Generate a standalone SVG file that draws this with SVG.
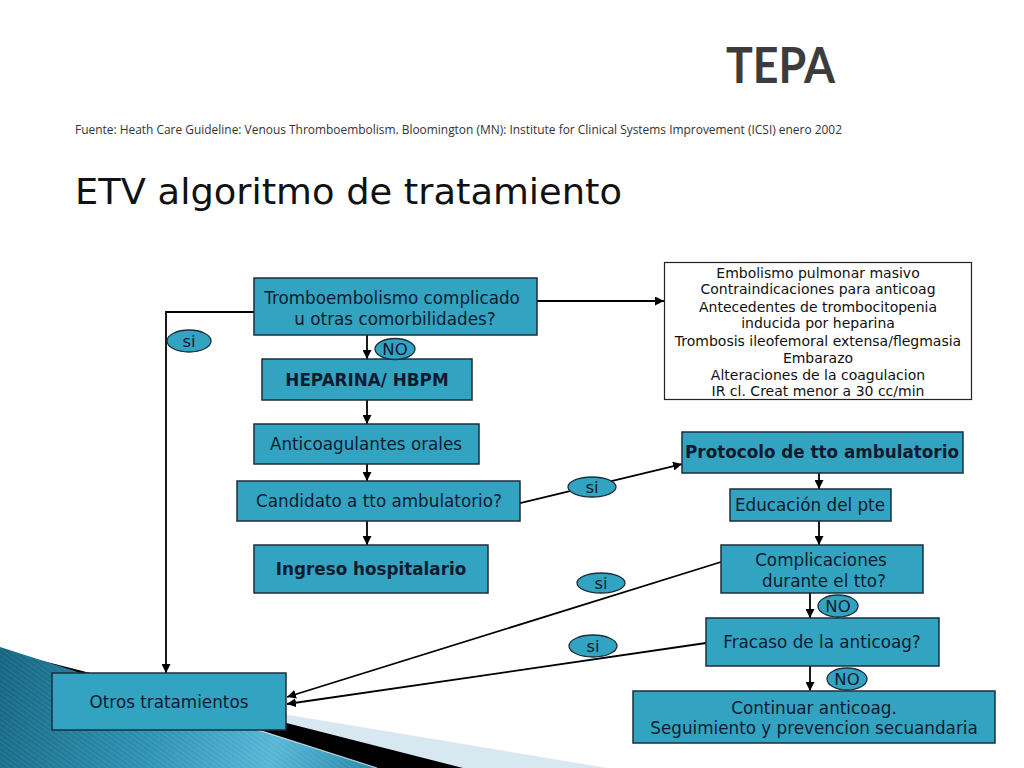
<svg xmlns="http://www.w3.org/2000/svg" width="1024" height="768" viewBox="0 0 1024 768">
<defs>
<linearGradient id="teal" x1="0" y1="650" x2="370" y2="768" gradientUnits="userSpaceOnUse">
<stop offset="0" stop-color="#156580"/>
<stop offset="0.45" stop-color="#2f93b5"/>
<stop offset="0.75" stop-color="#58b6d6"/>
<stop offset="1" stop-color="#2a8aad"/>
</linearGradient>
<pattern id="hatch" width="4" height="4" patternUnits="userSpaceOnUse" patternTransform="rotate(-55)">
<rect width="1.2" height="4" fill="#ffffff" fill-opacity="0.08"/>
</pattern>
<marker id="arr" viewBox="0 0 10 10" refX="10" refY="5" markerWidth="9" markerHeight="9" markerUnits="userSpaceOnUse" orient="auto">
<path d="M0,0 L10,5 L0,10 z" fill="#000"/>
</marker>
<style>
.box{fill:#33a3c2;stroke:#1b2e3c;stroke-width:1.5}
.wbox{fill:#fff;stroke:#222;stroke-width:1.2}
.t{font-family:"DejaVu Sans","Verdana",sans-serif;font-size:16.8px;fill:#0d1b2e;text-anchor:middle}
.b{font-weight:bold}
.s{font-family:"DejaVu Sans","Verdana",sans-serif;font-size:14px;fill:#111;text-anchor:middle}
.lab{fill:#33a3c2;stroke:#1b2e3c;stroke-width:1.3}
.lt{font-family:"DejaVu Sans","Verdana",sans-serif;font-size:16.5px;fill:#0d1b2e;text-anchor:middle}
.c{fill:none;stroke:#000;stroke-width:1.8}
</style>
</defs>
<rect width="1024" height="768" fill="#fff"/>
<!-- decoration -->
<g id="decoration">
<polygon points="0,667 607,768 0,768" fill="#d8e8f0"/>
<polygon points="0,650 463,768 0,768" fill="#000"/>
<polygon points="0,647 377,768 0,768" fill="url(#teal)"/>
<polygon points="0,647 377,768 0,768" fill="url(#hatch)"/>
<line x1="230" y1="721" x2="377" y2="768" stroke="#ffffff" stroke-opacity="0.7" stroke-width="1.2"/>
</g>
<!-- titles -->
<text x="726" y="83" font-family="Lato,'Open Sans',sans-serif" font-weight="bold" font-size="50" fill="#3c3c3c" textLength="109" lengthAdjust="spacingAndGlyphs">TEPA</text>
<text x="75" y="134" font-family="'Open Sans','DejaVu Sans',sans-serif" font-size="12.5" fill="#333" textLength="767" lengthAdjust="spacingAndGlyphs">Fuente: Heath Care Guideline: Venous Thromboembolism. Bloomington (MN): Institute for Clinical Systems Improvement (ICSI) enero 2002</text>
<text x="75" y="204" font-family="'DejaVu Sans',sans-serif" font-size="36" fill="#111" textLength="547" lengthAdjust="spacingAndGlyphs">ETV algoritmo de tratamiento</text>
<!-- connectors -->
<g id="connectors">
<polyline class="c" points="254,312 166,312 166,673" marker-end="url(#arr)"/>
<line class="c" x1="537" y1="301" x2="664" y2="301" marker-end="url(#arr)"/>
<line class="c" x1="367" y1="335" x2="367" y2="359" marker-end="url(#arr)"/>
<line class="c" x1="367" y1="400" x2="367" y2="424" marker-end="url(#arr)"/>
<line class="c" x1="367" y1="464" x2="367" y2="481" marker-end="url(#arr)"/>
<line class="c" x1="367" y1="521" x2="367" y2="545" marker-end="url(#arr)"/>
<line class="c" x1="520" y1="503" x2="682" y2="464" marker-end="url(#arr)"/>
<line class="c" x1="819" y1="473" x2="819" y2="489" marker-end="url(#arr)"/>
<line class="c" x1="819" y1="521" x2="819" y2="545" marker-end="url(#arr)"/>
<line class="c" x1="810" y1="593" x2="810" y2="618" marker-end="url(#arr)"/>
<line class="c" x1="810" y1="666" x2="810" y2="691" marker-end="url(#arr)"/>
<line class="c" x1="721" y1="562" x2="287" y2="697" marker-end="url(#arr)"/>
<line class="c" x1="706" y1="643" x2="287" y2="704" marker-end="url(#arr)"/>
</g>
<!-- nodes -->
<g id="n-trombo">
<rect class="box" x="254" y="278" width="283" height="57"/>
<text class="t" x="392" y="304">Tromboembolismo complicado</text>
<text class="t" x="395" y="325">u otras comorbilidades?</text>
</g>
<g id="n-criterios">
<rect class="wbox" x="664.5" y="262.5" width="307" height="137"/>
<text class="s" x="818" y="278">Embolismo pulmonar masivo</text>
<text class="s" x="818" y="294">Contraindicaciones para anticoag</text>
<text class="s" x="818" y="312">Antecedentes de trombocitopenia</text>
<text class="s" x="818" y="328">inducida por heparina</text>
<text class="s" x="818" y="346">Trombosis ileofemoral extensa/flegmasia</text>
<text class="s" x="818" y="363">Embarazo</text>
<text class="s" x="818" y="380">Alteraciones de la coagulacion</text>
<text class="s" x="818" y="396">IR cl. Creat menor a 30 cc/min</text>
</g>
<g id="n-heparina">
<rect class="box" x="262" y="359" width="210" height="41"/>
<text class="t b" x="367" y="386" font-size="16">HEPARINA/ HBPM</text>
</g>
<g id="n-anticoag">
<rect class="box" x="254" y="424" width="225" height="40"/>
<text class="t" x="366" y="450">Anticoagulantes orales</text>
</g>
<g id="n-candidato">
<rect class="box" x="237" y="481" width="283" height="40"/>
<text class="t" x="379" y="507">Candidato a tto ambulatorio?</text>
</g>
<g id="n-ingreso">
<rect class="box" x="254" y="545" width="234" height="48"/>
<text class="t b" x="371" y="575" font-size="16">Ingreso hospitalario</text>
</g>
<g id="n-protocolo">
<rect class="box" x="682" y="432" width="281" height="41"/>
<text class="t b" x="822" y="458" font-size="16">Protocolo de tto ambulatorio</text>
</g>
<g id="n-educacion">
<rect class="box" x="730" y="489" width="161" height="32"/>
<text class="t" x="810" y="511">Educación del pte</text>
</g>
<g id="n-complicaciones">
<rect class="box" x="721" y="545" width="202" height="48"/>
<text class="t" x="821" y="566">Complicaciones</text>
<text class="t" x="824" y="587">durante el tto?</text>
</g>
<g id="n-fracaso">
<rect class="box" x="706" y="618" width="233" height="48"/>
<text class="t" x="822" y="648">Fracaso de la anticoag?</text>
</g>
<g id="n-continuar">
<rect class="box" x="633" y="691" width="362" height="52"/>
<text class="t" x="814" y="714">Continuar anticoag.</text>
<text class="t" x="814" y="734">Seguimiento y prevencion secuandaria</text>
</g>
<g id="n-otros">
<rect class="box" x="52" y="673" width="234" height="57"/>
<text class="t" x="169" y="708">Otros tratamientos</text>
</g>
<!-- labels -->
<g id="l-si1"><ellipse class="lab" cx="189" cy="341" rx="22" ry="11"/><text class="lt" x="189" y="347">si</text></g>
<g id="l-no1"><ellipse class="lab" cx="395" cy="349" rx="20" ry="10.5"/><text class="lt" x="395" y="355">NO</text></g>
<g id="l-si2"><ellipse class="lab" cx="592" cy="487" rx="24" ry="10"/><text class="lt" x="592" y="493">si</text></g>
<g id="l-si3"><ellipse class="lab" cx="601" cy="583" rx="24" ry="10"/><text class="lt" x="601" y="589">si</text></g>
<g id="l-si4"><ellipse class="lab" cx="593" cy="646" rx="24" ry="11"/><text class="lt" x="593" y="652">si</text></g>
<g id="l-no2"><ellipse class="lab" cx="838" cy="606" rx="20" ry="11"/><text class="lt" x="838" y="612">NO</text></g>
<g id="l-no3"><ellipse class="lab" cx="847" cy="679" rx="20" ry="11"/><text class="lt" x="847" y="685">NO</text></g>
</svg>
